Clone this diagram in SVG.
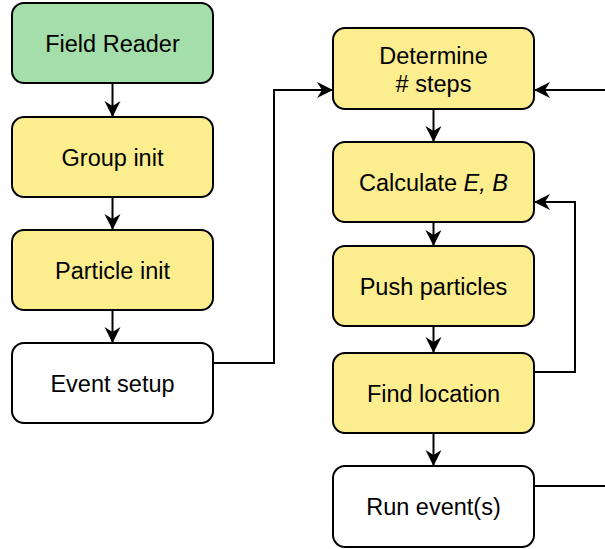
<svg xmlns="http://www.w3.org/2000/svg" width="605" height="549" viewBox="0 0 605 549">
<style>
.box{stroke:#000;stroke-width:2}
.green{fill:#a4deaa}
.yellow{fill:#fcee8f}
.white{fill:#fff}
.lbl{font-family:"Liberation Sans",Arial,Helvetica,sans-serif;font-size:23.5px;fill:#000;text-anchor:middle}
.conn{fill:none;stroke:#000;stroke-width:2}
</style>
<defs>
<marker id="arr" markerUnits="userSpaceOnUse" markerWidth="20" markerHeight="20" viewBox="-18 -10 20 20" refX="0" refY="0" orient="auto">
<path d="M0,0 L-16,-8 L-11,0 L-16,8 Z" fill="#000"/>
</marker>
</defs>
<g id="connectors">
<path class="conn" d="M112.5,83 V117" marker-end="url(#arr)"/>
<path class="conn" d="M112.5,197 V230" marker-end="url(#arr)"/>
<path class="conn" d="M112.5,310 V343" marker-end="url(#arr)"/>
<path class="conn" d="M213,363 H274 V90 H333" marker-end="url(#arr)"/>
<path class="conn" d="M605,90 H534" marker-end="url(#arr)"/>
<path class="conn" d="M433.5,109 V142" marker-end="url(#arr)"/>
<path class="conn" d="M433.5,222 V246" marker-end="url(#arr)"/>
<path class="conn" d="M433.5,326 V353" marker-end="url(#arr)"/>
<path class="conn" d="M534,372 H575 V202 H534" marker-end="url(#arr)"/>
<path class="conn" d="M433.5,433 V466" marker-end="url(#arr)"/>
<path class="conn" d="M534,486 H605"/>
</g>
<g id="field-reader">
<rect class="box green" x="12" y="3" width="201" height="80" rx="12"/>
<text class="lbl" x="112.5" y="51.5">Field Reader</text>
</g>
<g id="group-init">
<rect class="box yellow" x="12" y="117" width="201" height="80" rx="12"/>
<text class="lbl" x="112.5" y="166">Group init</text>
</g>
<g id="particle-init">
<rect class="box yellow" x="12" y="230" width="201" height="80" rx="12"/>
<text class="lbl" x="112.5" y="279">Particle init</text>
</g>
<g id="event-setup">
<rect class="box white" x="12" y="343" width="201" height="80" rx="12"/>
<text class="lbl" x="112.5" y="392">Event setup</text>
</g>
<g id="determine-steps">
<rect class="box yellow" x="333" y="28" width="201" height="81" rx="12"/>
<text class="lbl" x="433.5" y="64">Determine</text>
<text class="lbl" x="433.5" y="91.5"># steps</text>
</g>
<g id="calculate-eb">
<rect class="box yellow" x="333" y="142" width="201" height="80" rx="12"/>
<text class="lbl" x="433.5" y="190.5">Calculate <tspan font-style="italic">E, B</tspan></text>
</g>
<g id="push-particles">
<rect class="box yellow" x="333" y="246" width="201" height="80" rx="12"/>
<text class="lbl" x="433.5" y="294.5">Push particles</text>
</g>
<g id="find-location">
<rect class="box yellow" x="333" y="353" width="201" height="80" rx="12"/>
<text class="lbl" x="433.5" y="401.5">Find location</text>
</g>
<g id="run-events">
<rect class="box white" x="333" y="466" width="201" height="81" rx="12"/>
<text class="lbl" x="433.5" y="515">Run event(s)</text>
</g>
</svg>
